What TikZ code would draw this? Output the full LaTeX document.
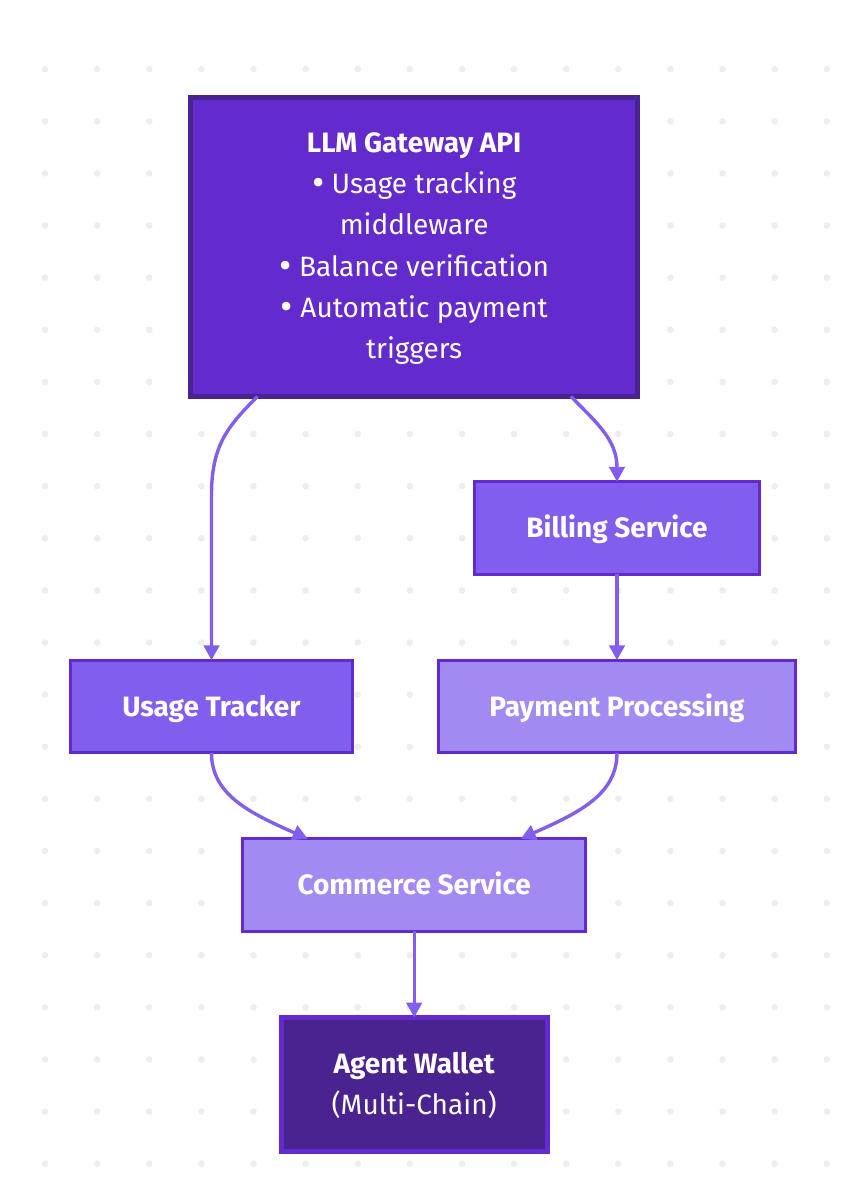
\documentclass[tikz,border=0pt]{standalone}
\usepackage{fontspec}
\setmainfont{Fira Sans}
\usetikzlibrary{arrows.meta,calc}
\definecolor{cdeep}{HTML}{4A2390}
\definecolor{cmain}{HTML}{632ACD}
\definecolor{cmid}{HTML}{825EEE}
\definecolor{clight}{HTML}{A18BF2}
\definecolor{cdot}{HTML}{EEEEEE}
\newcommand{\bul}{\raisebox{-2pt}{\scalebox{1.35}{•}}}
\newcommand{\toprule}{\rule{0pt}{23pt}}
\tikzset{
  box/.style={rectangle,draw=cmain,line width=3.4pt,text=white,align=center,inner sep=0pt,outer sep=0pt,
    font=\fontsize{28}{41.1}\selectfont},
  oneline/.style={text height=19pt,text depth=0pt},
  heavy/.style={line width=5pt},
  link/.style={draw=cmid,line width=3.4pt,-{Triangle[length=15pt,width=15.5pt,fill=cmid]}},
}
\begin{document}
\begin{tikzpicture}[x=1pt,y=-1pt]
\useasboundingbox (0,0) rectangle (854,1200);
\fill[white] (0,0) rectangle (854,1200);
\foreach \i in {0,...,15}{\foreach \j in {0,...,21}{
  \fill[cdot] ({45+52.12*\i},{69.2+52.12*\j}) circle (3.3pt);
}}
\node[box,heavy,draw=cdeep,fill=cmain,minimum width=446.5pt,minimum height=299pt] (llm) at (414.2,247)
  {\toprule\textbf{LLM Gateway API}\\\bul{} Usage tracking\\middleware\\\bul{} Balance verification\\\bul{} Automatic payment\\triggers};
\node[box,oneline,fill=cmid,minimum width=285pt,minimum height=92.5pt] (billing) at (617,528) {\textbf{Billing Service}};
\node[box,oneline,fill=cmid,minimum width=282pt,minimum height=92.5pt] (tracker) at (211.5,706.5) {\textbf{Usage Tracker}};
\node[box,oneline,fill=clight,minimum width=357pt,minimum height=92.5pt] (payment) at (617,706.5) {\textbf{Payment Processing}};
\node[box,oneline,fill=clight,minimum width=343pt,minimum height=92.5pt] (commerce) at (414.2,885) {\textbf{Commerce Service}};
\node[box,heavy,fill=cdeep,minimum width=266pt,minimum height=134pt] (wallet) at (414.2,1084.5)
  {\toprule\textbf{Agent Wallet}\\(Multi-Chain)};
\draw[link] ([xshift=66.5pt]llm.south west) .. controls (228,426) and (211.5,445) .. (211.5,495) -- (tracker.north);
\draw[link] ([xshift=-66.5pt]llm.south east) .. controls (597,423) and (617,440) .. (billing.north);
\draw[link] (billing.south) -- (payment.north);
\draw[link] (tracker.south) .. controls (211.5,795) and (250,813) .. ([xshift=65pt]commerce.north west);
\draw[link] (payment.south) .. controls (617,795) and (578,813) .. ([xshift=-65pt]commerce.north east);
\draw[link] (commerce.south) -- (wallet.north);
\end{tikzpicture}
\end{document}
